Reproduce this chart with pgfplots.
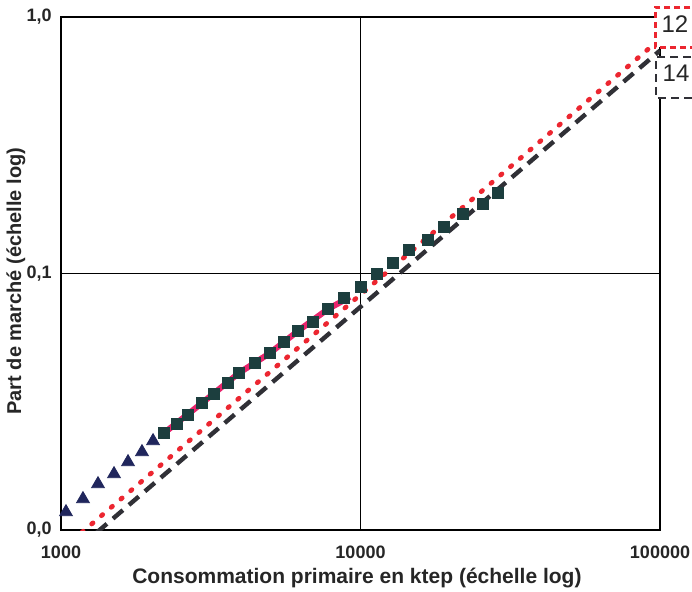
\documentclass[border=0pt]{standalone}
\usepackage{fontspec}
\setmainfont{Liberation Sans}
\usepackage{pgfplots}
\pgfplotsset{compat=1.18}
\definecolor{navytri}{RGB}{32,38,92}
\definecolor{tealsq}{RGB}{28,62,62}
\definecolor{rdot}{RGB}{236,38,48}
\definecolor{pinkline}{RGB}{232,36,108}
\definecolor{dashgray}{RGB}{48,48,54}
\begin{document}
\begin{tikzpicture}
\begin{axis}[
  at={(30.5pt,30.5pt)}, anchor=south west,
  scale only axis, width=299.5pt, height=256.5pt,
  xmode=log, ymode=log,
  xmin=1000, xmax=100000, ymin=0.01, ymax=1,
  xtick={1000,10000,100000}, xticklabels={1000,10000,100000},
  ytick={0.01,0.1,1}, yticklabels={{0,0},{0,1},{1,0}},
  major tick length=0pt, minor tick length=0pt,
  minor xtick={}, minor ytick={},
  grid=major, major grid style={black, line width=0.6pt},
  axis line style={black, line width=1.1pt},
  /pgf/number format/assume math mode=true,
  tick label style={font=\fontsize{9}{9}\selectfont\bfseries, text=black!85},
  xticklabel style={anchor=center, yshift=-11pt},
  yticklabel style={anchor=east, inner sep=0pt, xshift=-4.5pt},
  xlabel={Consommation primaire en ktep (échelle log)},
  ylabel={Part de marché (échelle log)},
  xlabel style={at={(rel axis cs:0.494,-0.0936)}, anchor=center, font=\fontsize{10.5}{11}\selectfont\bfseries, text=black!85},
  ylabel style={at={(rel axis cs:-0.0751,0.485)}, anchor=center, font=\fontsize{10}{11}\selectfont\bfseries, text=black!85},
]
% pink thick line behind squares
\addplot[pinkline, line width=3pt, no marks] coordinates {
(2208,0.02388) (2957,0.03127) (3929,0.04094) (4986,0.04898) (6183,0.05969) (7789,0.07270) (9220,0.0810)
};
% red dotted line
\addplot[rdot, line width=2.4pt, dash pattern=on 0.8pt off 5.6pt, line cap=round, no marks] coordinates {
(1175,0.0098) (94800,0.778)
};
% black dashed line
\addplot[dashgray, line width=2.2pt, dash pattern=on 6.5pt off 4pt, no marks] coordinates {
(1319,0.0098) (100000,0.74)
};
% triangles
\addplot[only marks, mark=triangle*, mark size=3.7pt, navytri] coordinates {
(1039,0.01175) (1184,0.01321) (1329,0.01511) (1503,0.01653) (1674,0.01841) (1864,0.02014) (2029,0.02223)
};
% squares
\addplot[only marks, mark=square*, mark size=2.6pt, tealsq] coordinates {
(2208,0.02388) (2439,0.02590) (2655,0.02808) (2957,0.03127) (3243,0.03390)
(3611,0.03742) (3929,0.04094) (4443,0.04478) (4986,0.04898) (5553,0.05408)
(6183,0.05969) (6940,0.06470) (7789,0.07270) (8809,0.08026) (10039,0.08858)
(11353,0.0995) (12838,0.1099) (14518,0.1235) (16807,0.1351) (19004,0.1518)
(21990,0.1706) (25645,0.1866) (28774,0.2060)
};
\end{axis}
% label boxes
\draw[rdot, line width=1.5pt, dash pattern=on 3pt off 2pt, fill=white] (365pt,292pt) -- (327.5pt,292pt) -- (327.5pt,272pt) -- (365pt,272pt);
\node[font=\fontsize{12}{12}\selectfont, text=black!85] at (337.5pt,283.5pt) {12};
\draw[dashgray, line width=1.3pt, dash pattern=on 4pt off 2.5pt, fill=white] (365pt,267pt) -- (328pt,267pt) -- (328pt,246.5pt) -- (365pt,246.5pt);
\node[font=\fontsize{12}{12}\selectfont, text=black!85] at (338pt,259pt) {14};
\pgfresetboundingbox
\path[use as bounding box] (0pt,0pt) rectangle (346pt,295.5pt);
\end{tikzpicture}
\end{document}
